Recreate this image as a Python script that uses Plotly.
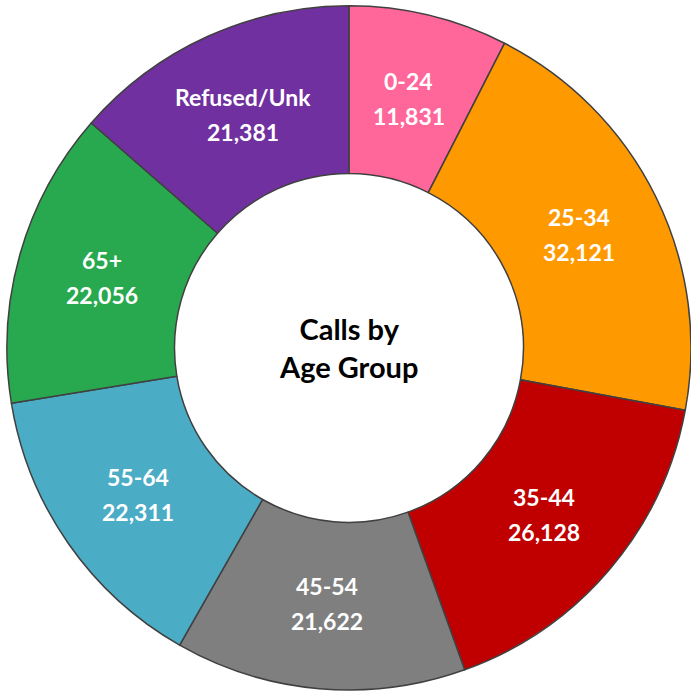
import math
import plotly.graph_objects as go

categories = ["0-24", "25-34", "35-44", "45-54", "55-64", "65+", "Refused/Unk"]
values = [11831, 32121, 26128, 21622, 22311, 22056, 21381]
colors = ["#FF6699", "#FF9900", "#C00000", "#7F7F7F", "#4BACC6", "#28A94F", "#7030A0"]
center_title = "Calls by<br>Age Group"

W = H = 691
dom_x = [0.01, 1.0]
dom_y = [0.0, 0.993]
hole = 0.51

fig = go.Figure(go.Pie(
    labels=categories,
    values=values,
    textinfo="none",
    hole=hole,
    sort=False,
    direction="clockwise",
    rotation=0,
    marker=dict(colors=colors, line=dict(color="#404040", width=1.5)),
    domain=dict(x=dom_x, y=dom_y),
    showlegend=False,
))

# label placement derived from the pie geometry and the data
cx = (dom_x[0] + dom_x[1]) / 2
cy = (dom_y[0] + dom_y[1]) / 2
r_px = min((dom_x[1] - dom_x[0]) * W, (dom_y[1] - dom_y[0]) * H) / 2
r_text = r_px * 0.75
total = sum(values)
cum = 0.0
lab_font = dict(family="Lato", size=23, color="white", weight="bold")
for c, v in zip(categories, values):
    mid = (cum + v / 2) / total * 2 * math.pi
    cum += v
    x = cx + r_text * math.sin(mid) / W
    y = cy + r_text * math.cos(mid) / H
    for txt, ys in ((c, 17.5), (f"{v:,}", -17.5)):
        fig.add_annotation(text=txt, x=x, y=y, xref="paper", yref="paper", yshift=ys,
                           xanchor="center", yanchor="middle",
                           showarrow=False, font=lab_font)

fig.add_annotation(
    text=center_title, x=cx, y=cy, xref="paper", yref="paper",
    xanchor="center", yanchor="middle",
    showarrow=False, font=dict(family="Lato", size=29, color="black", weight="bold"),
)

fig.update_layout(
    width=W, height=H,
    margin=dict(l=0, r=0, t=0, b=0),
    paper_bgcolor="white", plot_bgcolor="white",
)

fig.write_html("out.html")
